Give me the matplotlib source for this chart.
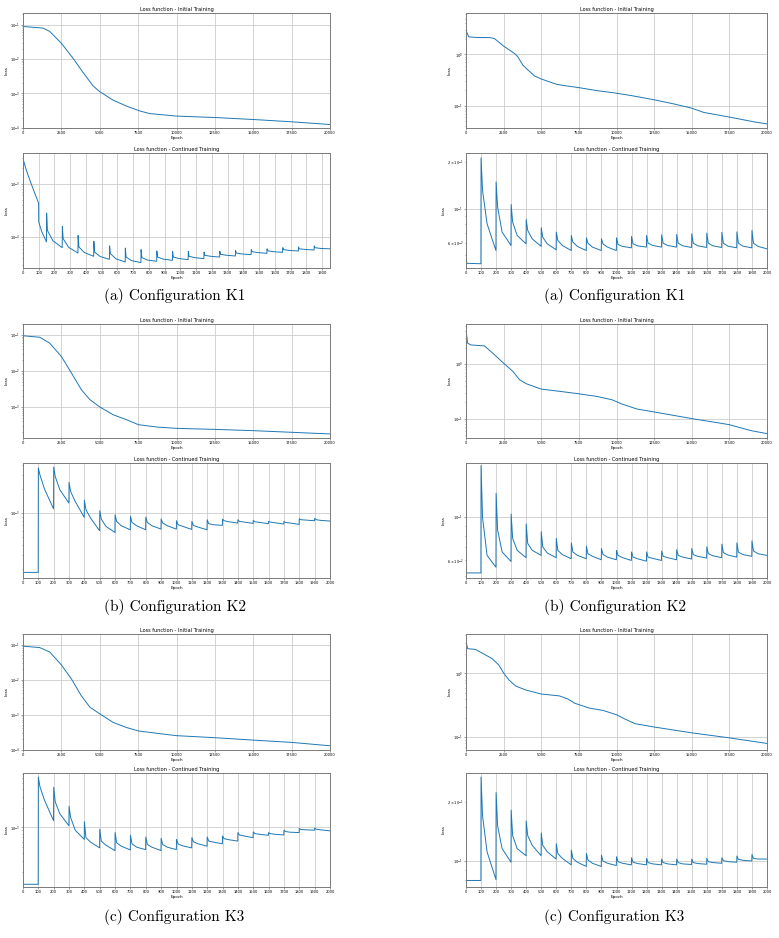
import matplotlib
matplotlib.use("Agg")
import matplotlib.pyplot as plt

# ---------------- initial training (20000 epochs) ----------------
# left column
l1_init_epoch = [0, 30, 150, 1300, 1740, 2500, 3260, 3910, 4565, 5000, 5870, 6740,
                 7610, 8260, 10000, 12500, 15000, 17500, 20000]
l1_init_loss = [0.135, 0.089, 0.088, 0.080, 0.064, 0.029, 0.0106, 0.0041, 0.00166,
                0.00113, 6.4e-4, 4.3e-4, 3.1e-4, 2.6e-4, 2.2e-4, 2.0e-4, 1.75e-4,
                1.5e-4, 1.25e-4]
l2_init_epoch = [0, 50, 1090, 1740, 2500, 3160, 3810, 4360, 5010, 5880, 6750, 7520,
                 8720, 10000, 12500, 15000, 17500, 20000]
l2_init_loss = [0.124, 0.094, 0.086, 0.059, 0.0252, 0.0087, 0.0030, 0.0016, 0.0010,
                6.1e-4, 4.45e-4, 3.25e-4, 2.8e-4, 2.57e-4, 2.41e-4, 2.22e-4, 2.0e-4,
                1.8e-4]
l3_init_epoch = [0, 50, 1090, 1740, 2500, 3160, 3810, 4360, 5010, 5880, 6750, 7520,
                 8720, 10000, 12500, 15000, 17500, 20000]
l3_init_loss = [0.134, 0.0895, 0.0818, 0.0612, 0.0262, 0.0103, 0.00338, 0.00162,
                0.00104, 5.93e-4, 4.25e-4, 3.4e-4, 2.91e-4, 2.49e-4, 2.18e-4,
                1.86e-4, 1.6e-4, 1.28e-4]
# right column
r1_init_epoch = [0, 40, 180, 800, 1560, 1890, 2500, 3220, 3440, 3780, 4110, 4560,
                 5000, 6000, 6670, 7500, 8670, 10000, 11100, 12500, 13800, 15000,
                 15800, 17500, 19100, 20000]
r1_init_loss = [6.2, 2.74, 2.2, 2.13, 2.13, 2.04, 1.45, 1.045, 0.90, 0.62, 0.50, 0.38,
                0.333, 0.263, 0.244, 0.226, 0.198, 0.176, 0.156, 0.131, 0.109, 0.090,
                0.0743, 0.0604, 0.049, 0.0445]
r2_init_epoch = [0, 110, 330, 1230, 1780, 2500, 3120, 3560, 4010, 5000, 6240, 7460,
                 8690, 9690, 10360, 11360, 12520, 15030, 17480, 18930, 20000]
r2_init_loss = [4.2, 2.41, 2.24, 2.15, 1.585, 1.04, 0.736, 0.519, 0.439, 0.351,
                0.319, 0.289, 0.258, 0.2246, 0.1875, 0.152, 0.134, 0.1014, 0.0789,
                0.0614, 0.054]
r3_init_epoch = [0, 110, 625, 1070, 1740, 2190, 2520, 2860, 3300, 3970, 4980, 6200,
                 6760, 7210, 8210, 9110, 10000, 10560, 11230, 12500, 15020, 17480,
                 20000]
r3_init_loss = [3.24, 2.46, 2.4, 2.1, 1.715, 1.35, 1.0, 0.787, 0.634, 0.549, 0.475,
                0.443, 0.397, 0.34, 0.284, 0.261, 0.2234, 0.191, 0.1615, 0.143,
                0.1155, 0.0965, 0.0787]

# ---------------- continued training ----------------
# head = curve before the first restart; then for every restart epoch:
# peak value, value a few epochs later, value ~40 epochs later, value before next restart
l1_head_epoch = [0, 20, 50, 80, 99, 100, 120, 149]
l1_head_loss = [2.94e-3, 1.83e-3, 1.03e-3, 6.04e-4, 4.34e-4, 1.91e-4, 1.24e-4, 8.1e-5]
l1_restart = [150, 250, 350, 450, 550, 650, 750, 850, 950, 1050, 1150, 1250, 1350,
              1450, 1550, 1650, 1750, 1850]
l1_peak = [2.82e-4, 1.58e-4, 1.07e-4, 8.3e-5, 6.8e-5, 6.2e-5, 5.8e-5, 5.46e-5, 5.4e-5,
           5.4e-5, 5.2e-5, 5.4e-5, 5.6e-5, 5.8e-5, 6.0e-5, 6.3e-5, 6.5e-5, 6.8e-5]
l1_knee = [1.33e-4, 9.3e-5, 6.5e-5, 5.2e-5, 4.87e-5, 4.2e-5, 4.1e-5, 4.2e-5, 4.2e-5,
           4.34e-5, 4.53e-5, 4.73e-5, 5.0e-5, 5.3e-5, 5.5e-5, 5.8e-5, 6.0e-5, 6.3e-5]
l1_mid = [8.5e-5, 6.4e-5, 5.1e-5, 4.3e-5, 3.9e-5, 3.6e-5, 3.7e-5, 3.85e-5, 3.95e-5,
          4.1e-5, 4.35e-5, 4.55e-5, 4.8e-5, 5.1e-5, 5.3e-5, 5.6e-5, 5.85e-5, 6.1e-5]
l1_end = [6.3e-5, 5.0e-5, 4.34e-5, 3.81e-5, 3.4e-5, 3.31e-5, 3.5e-5, 3.65e-5, 3.76e-5,
          3.93e-5, 4.2e-5, 4.4e-5, 4.66e-5, 4.94e-5, 5.16e-5, 5.46e-5, 5.7e-5, 6.0e-5]
l1_last = 1950

restart_100 = [100, 200, 300, 400, 500, 600, 700, 800, 900, 1000, 1100, 1200, 1300,
               1400, 1500, 1600, 1700, 1800, 1900]

l2_head_epoch = [0, 99]
l2_head_loss = [1.8e-4, 1.8e-4]
l2_peak = [3.67e-3, 3.78e-3, 2.43e-3, 1.44e-3, 1.07e-3, 9.53e-4, 9.08e-4, 8.91e-4,
           8.41e-4, 8.01e-4, 7.86e-4, 8.25e-4, 8.41e-4, 8.25e-4, 8.09e-4, 7.86e-4,
           7.86e-4, 8.49e-4, 8.57e-4]
l2_knee = [3.03e-3, 2.88e-3, 1.87e-3, 1.10e-3, 8.41e-4, 7.86e-4, 7.63e-4, 7.63e-4,
           7.49e-4, 7.14e-4, 7.0e-4, 7.35e-4, 8.01e-4, 7.86e-4, 7.78e-4, 7.71e-4,
           7.63e-4, 8.25e-4, 8.25e-4]
l2_mid = [2.0e-3, 1.96e-3, 1.40e-3, 8.66e-4, 6.81e-4, 6.93e-4, 6.93e-4, 6.93e-4,
          6.93e-4, 6.81e-4, 6.67e-4, 7.14e-4, 7.78e-4, 7.71e-4, 7.63e-4, 7.56e-4,
          7.49e-4, 8.17e-4, 8.09e-4]
l2_end = [1.13e-3, 1.335e-3, 8.83e-4, 6.0e-4, 5.71e-4, 6.17e-4, 6.17e-4, 6.29e-4,
          6.29e-4, 6.23e-4, 6.17e-4, 7.0e-4, 7.49e-4, 7.42e-4, 7.35e-4, 7.28e-4,
          7.21e-4, 8.01e-4, 7.94e-4]

l3_head_epoch = [0, 99]
l3_head_loss = [1.28e-4, 1.28e-4]
l3_peak = [6.18e-3, 4.28e-3, 2.15e-3, 1.23e-3, 9.4e-4, 8.31e-4, 7.53e-4, 7.08e-4,
           6.74e-4, 6.5e-4, 6.91e-4, 7.08e-4, 7.35e-4, 8.31e-4, 8.52e-4, 8.31e-4,
           9.06e-4, 9.64e-4, 9.75e-4]
l3_knee = [4.39e-3, 2.52e-3, 1.446e-3, 6.91e-4, 6.11e-4, 5.75e-4, 5.54e-4, 5.4e-4,
           5.4e-4, 5.54e-4, 5.96e-4, 6.11e-4, 6.67e-4, 7.62e-4, 8.01e-4, 8.01e-4,
           8.63e-4, 9.29e-4, 9.4e-4]
l3_mid = [2.68e-3, 1.64e-3, 9.06e-4, 5.89e-4, 5.27e-4, 5.08e-4, 4.9e-4, 4.9e-4,
          4.9e-4, 5.14e-4, 5.54e-4, 5.89e-4, 6.42e-4, 7.35e-4, 7.82e-4, 7.82e-4,
          8.42e-4, 9.18e-4, 9.18e-4]
l3_end = [1.28e-3, 1.064e-3, 6.5e-4, 4.78e-4, 4.33e-4, 4.44e-4, 4.49e-4, 4.33e-4,
          4.49e-4, 4.78e-4, 5.08e-4, 5.54e-4, 6.11e-4, 6.91e-4, 7.53e-4, 7.62e-4,
          8.31e-4, 9.06e-4, 8.84e-4]

r1_head_epoch = [0, 5, 99]
r1_head_loss = [0.050, 0.0445, 0.0442]
r1_peak = [0.213, 0.149, 0.1066, 0.0853, 0.0754, 0.0707, 0.0673, 0.065, 0.064, 0.065,
           0.0663, 0.0673, 0.068, 0.0683, 0.069, 0.0697, 0.0704, 0.071, 0.0725]
r1_knee = [0.131, 0.1025, 0.082, 0.0725, 0.0656, 0.0625, 0.061, 0.060, 0.0594, 0.0589,
           0.0594, 0.060, 0.060, 0.060, 0.060, 0.060, 0.060, 0.060, 0.060]
r1_mid = [0.080, 0.0707, 0.0673, 0.064, 0.0594, 0.058, 0.0572, 0.0566, 0.0566, 0.0572,
          0.0577, 0.058, 0.058, 0.0577, 0.0577, 0.0577, 0.0574, 0.0574, 0.0572]
r1_end = [0.0538, 0.058, 0.0594, 0.0572, 0.0544, 0.0538, 0.0538, 0.0538, 0.0538, 0.056,
          0.0566, 0.0566, 0.0566, 0.0563, 0.0563, 0.0563, 0.056, 0.056, 0.0552]

r2_head_epoch = [0, 5, 99]
r2_head_loss = [0.0532, 0.0518, 0.0518]
r2_peak = [0.1834, 0.1322, 0.1036, 0.0923, 0.0842, 0.0778, 0.0738, 0.071, 0.069, 0.0676,
           0.0663, 0.0663, 0.0671, 0.0682, 0.069, 0.0704, 0.0727, 0.0738, 0.0756]
r2_knee = [0.0992, 0.086, 0.0778, 0.0733, 0.0704, 0.0676, 0.0663, 0.065, 0.0645, 0.0637,
           0.0624, 0.0624, 0.063, 0.0637, 0.0643, 0.065, 0.0658, 0.0661, 0.0671]
r2_mid = [0.0637, 0.0663, 0.0676, 0.0676, 0.0655, 0.0643, 0.0637, 0.063, 0.0624, 0.062,
          0.0612, 0.0615, 0.062, 0.0624, 0.063, 0.0634, 0.064, 0.0643, 0.065]
r2_end = [0.0554, 0.0593, 0.062, 0.0637, 0.062, 0.0612, 0.0612, 0.0605, 0.0605, 0.060,
          0.0595, 0.060, 0.0605, 0.061, 0.0617, 0.062, 0.0624, 0.063, 0.0637]

r3_head_epoch = [0, 99]
r3_head_loss = [0.0794, 0.0794]
r3_peak = [0.27, 0.2244, 0.1824, 0.1606, 0.1392, 0.1226, 0.1136, 0.1093, 0.1072,
           0.1051, 0.1039, 0.1031, 0.1023, 0.1023, 0.1023, 0.1031, 0.1039, 0.106, 0.108]
r3_knee = [0.170, 0.1516, 0.135, 0.135, 0.1203, 0.1093, 0.1031, 0.1012, 0.1, 0.0992,
           0.0985, 0.0981, 0.0981, 0.0981, 0.0981, 0.0992, 0.1004, 0.1019, 0.1031]
r3_mid = [0.1114, 0.1157, 0.1157, 0.1203, 0.1114, 0.1031, 0.0985, 0.0973, 0.0973,
          0.0973, 0.097, 0.0966, 0.0966, 0.0966, 0.097, 0.0981, 0.0992, 0.1008, 0.1023]
r3_end = [0.0803, 0.0985, 0.1064, 0.1064, 0.1023, 0.0955, 0.0937, 0.0937, 0.0948,
          0.0955, 0.0955, 0.0955, 0.0955, 0.0959, 0.0962, 0.0973, 0.0985, 0.1, 0.1023]

captions = ["(a) Configuration K1", "(b) Configuration K2", "(c) Configuration K3"]
init_xticks = [0, 2500, 5000, 7500, 10000, 12500, 15000, 17500, 20000]
cont_xticks_2000 = [0, 100, 200, 300, 400, 500, 600, 700, 800, 900, 1000, 1100, 1200,
                    1300, 1400, 1500, 1600, 1700, 1800, 1900, 2000]
cont_xticks_1900 = cont_xticks_2000[:-1]

BLUE = '#1f77b4'
W, H = 779, 938


def continued(head_x, head_y, starts, peak, knee, mid, end, last, knee_at=10):
    xs, ys = list(head_x), list(head_y)
    stops = starts[1:] + [last]
    for s, stop, p, k, m, e in zip(starts, stops, peak, knee, mid, end):
        xs += [s, s + knee_at, s + 40, stop - 1]
        ys += [p, k, m, e]
    return xs, ys


fig = plt.figure(figsize=(W / 100, H / 100), dpi=100)


def px_axes(x0, y0, x1, y1):
    return fig.add_axes([x0 / W, 1 - y1 / H, (x1 - x0) / W, (y1 - y0) / H])


def style(ax, title, xlim, ylim, xticks):
    ax.set_yscale('log')
    ax.set_xlim(*xlim)
    ax.set_ylim(*ylim)
    ax.set_xticks(xticks)
    ax.set_title(title, fontsize=3.6, pad=1.6)
    ax.set_xlabel('Epoch', fontsize=3.0, labelpad=0.8)
    ax.set_ylabel('Loss', fontsize=3.0, labelpad=0.8)
    ax.grid(True, which='major', color='#cccccc', lw=0.6)
    ax.set_axisbelow(True)
    ax.tick_params(which='both', labelsize=2.6, width=0.4, pad=0.8, color='#555555')
    ax.tick_params(which='major', length=1.4)
    ax.tick_params(which='minor', length=0.8)
    for sp in ax.spines.values():
        sp.set_color('#7a7a7a')
        sp.set_linewidth(0.7)


cols = [(23, 330), (466, 767)]
rows = [((13, 128), (153, 268), 296), ((324, 438), (463, 578), 607),
        ((634, 750), (773, 887), 917)]

left_init = [(l1_init_epoch, l1_init_loss, (0.99e-4, 0.22)),
             (l2_init_epoch, l2_init_loss, (1.39e-4, 0.20)),
             (l3_init_epoch, l3_init_loss, (0.97e-4, 0.20))]
right_init = [(r1_init_epoch, r1_init_loss, (0.037, 6.4)),
              (r2_init_epoch, r2_init_loss, (0.045, 5.4)),
              (r3_init_epoch, r3_init_loss, (0.062, 4.2))]

left_cont = [
    (continued(l1_head_epoch, l1_head_loss, l1_restart, l1_peak, l1_knee, l1_mid,
               l1_end, l1_last, knee_at=5), (2.62e-5, 3.76e-3), l1_last, cont_xticks_1900),
    (continued(l2_head_epoch, l2_head_loss, restart_100, l2_peak, l2_knee, l2_mid,
               l2_end, 2000), (1.53e-4, 4.25e-3), 2000, cont_xticks_2000),
    (continued(l3_head_epoch, l3_head_loss, restart_100, l3_peak, l3_knee, l3_mid,
               l3_end, 2000), (1.16e-4, 7.17e-3), 2000, cont_xticks_2000),
]
right_cont = [
    (continued(r1_head_epoch, r1_head_loss, restart_100, r1_peak, r1_knee, r1_mid,
               r1_end, 2000), (0.0415, 0.229), 2000, cont_xticks_2000),
    (continued(r2_head_epoch, r2_head_loss, restart_100, r2_peak, r2_knee, r2_mid,
               r2_end, 2000), (0.0488, 0.189), 2000, cont_xticks_2000),
    (continued(r3_head_epoch, r3_head_loss, restart_100, r3_peak, r3_knee, r3_mid,
               r3_end, 2000), (0.0735, 0.283), 2000, cont_xticks_2000),
]

for (x0, x1), inits, conts in zip(cols, [left_init, right_init], [left_cont, right_cont]):
    for i, ((iy0, iy1), (cy0, cy1), cap_y) in enumerate(rows):
        ex, ly, ylim = inits[i]
        ax = px_axes(x0, iy0, x1, iy1)
        ax.plot(ex, ly, color=BLUE, lw=0.7)
        style(ax, 'Loss function - Initial Training', (0, 20000), ylim, init_xticks)

        (cx, cy), cylim, last, ticks = conts[i]
        ax2 = px_axes(x0, cy0, x1, cy1)
        ax2.plot(cx, cy, color=BLUE, lw=0.7)
        style(ax2, 'Loss function - Continued Training', (0, last), cylim, ticks)

        fig.text(((x0 + x1) / 2 - 2) / W, 1 - cap_y / H, captions[i],
                 fontfamily='cmr10', fontsize=11, ha='center', va='center')

fig.savefig('out.png', dpi=100)
